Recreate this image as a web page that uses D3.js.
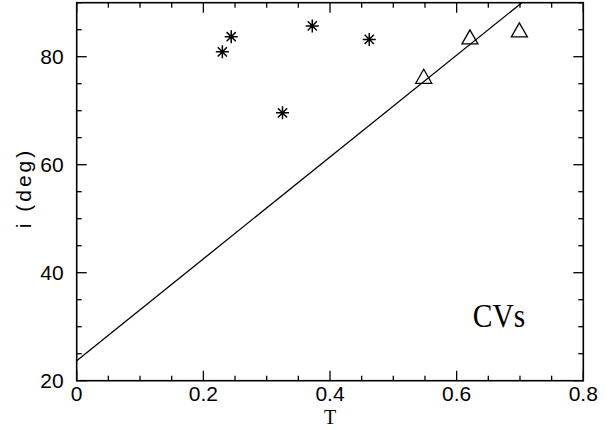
<!DOCTYPE html>
<html>
<head>
<meta charset="utf-8">
<script src="https://cdn.jsdelivr.net/npm/d3@7"></script>
<style>
  html, body { margin: 0; padding: 0; background: #fff; }
  svg { display: block; }
  .tick-label { font-family: "Liberation Sans", Arial, sans-serif; font-size: 21px; fill: #000; }
  .axis-title { font-family: "Liberation Serif", "Times New Roman", serif; fill: #000; }
</style>
</head>
<body>
<svg id="chart" width="616" height="430"></svg>
<script>
// Inclination vs. T for cataclysmic variables
const starT = [0.230, 0.244, 0.325, 0.372, 0.462];
const starI = [80.9, 83.7, 69.6, 85.7, 83.2];

const triT = [0.548, 0.621, 0.699];
const triI = [76.0, 83.3, 84.6];

// Linear relation i = a + b*T
const fitA = 23.7;
const fitB = 94.3;

const xDomain = [0, 0.8];
const yDomain = [20, 90];
const xMajor = [0, 0.2, 0.4, 0.6, 0.8];
const xMajorLabels = ["0", "0.2", "0.4", "0.6", "0.8"];
const yMajor = [20, 40, 60, 80];
const yMajorLabels = ["20", "40", "60", "80"];
const xMinorStep = 0.05;
const yMinorStep = 5;

const svg = d3.select("#chart");
const frame = { left: 76.7, right: 583.3, top: 2.7, bottom: 380.7 };

const x = d3.scaleLinear().domain(xDomain).range([frame.left, frame.right]);
const y = d3.scaleLinear().domain(yDomain).range([frame.bottom, frame.top]);

const majorLen = 10, minorLen = 5;

const xMinor = d3.range(xDomain[0], xDomain[1] + 1e-9, xMinorStep);
const yMinor = d3.range(yDomain[0], yDomain[1] + 1e-9, yMinorStep);
const isMajor = (v, list) => list.some(m => Math.abs(m - v) < 1e-9);

const g = svg.append("g");

// clip region for the plotted data
svg.append("clipPath").attr("id", "plotclip")
  .append("rect").attr("x", frame.left).attr("y", frame.top)
  .attr("width", frame.right - frame.left).attr("height", frame.bottom - frame.top);

// inward ticks on all four sides
const ticks = g.append("g").attr("stroke", "#000").attr("stroke-width", 1.3);
xMinor.forEach(v => {
  const len = isMajor(v, xMajor) ? majorLen : minorLen;
  const px = x(v);
  ticks.append("line").attr("x1", px).attr("x2", px).attr("y1", frame.bottom).attr("y2", frame.bottom - len);
  ticks.append("line").attr("x1", px).attr("x2", px).attr("y1", frame.top).attr("y2", frame.top + len);
});
yMinor.forEach(v => {
  const len = isMajor(v, yMajor) ? majorLen : minorLen;
  const py = y(v);
  ticks.append("line").attr("x1", frame.left).attr("x2", frame.left + len).attr("y1", py).attr("y2", py);
  ticks.append("line").attr("x1", frame.right).attr("x2", frame.right - len).attr("y1", py).attr("y2", py);
});

// frame
g.append("rect").attr("x", frame.left).attr("y", frame.top)
  .attr("width", frame.right - frame.left).attr("height", frame.bottom - frame.top)
  .attr("fill", "none").attr("stroke", "#000").attr("stroke-width", 1.6);

// tick labels
g.selectAll(".xl").data(xMajor).enter().append("text")
  .attr("class", "tick-label")
  .attr("x", d => x(d)).attr("y", frame.bottom + 20)
  .attr("text-anchor", "middle")
  .text((d, i) => xMajorLabels[i]);

g.selectAll(".yl").data(yMajor).enter().append("text")
  .attr("class", "tick-label")
  .attr("x", frame.left - 13).attr("y", d => y(d) + 7.5)
  .attr("text-anchor", "end")
  .text((d, i) => yMajorLabels[i]);

// axis titles
g.append("text").attr("class", "axis-title")
  .attr("x", x(0.4)).attr("y", 424)
  .attr("text-anchor", "middle").attr("font-size", 20)
  .text("T");

g.append("text")
  .attr("font-family", "Liberation Sans, Arial, sans-serif")
  .attr("font-size", 21)
  .attr("letter-spacing", 3)
  .attr("text-anchor", "middle")
  .attr("transform", "translate(31,188) rotate(-90)")
  .text("i (deg)");

// fitted relation
const lineData = xDomain.map(t => [t, fitA + fitB * t]);
g.append("path")
  .attr("clip-path", "url(#plotclip)")
  .attr("d", d3.line().x(d => x(d[0])).y(d => y(d[1]))(lineData))
  .attr("fill", "none").attr("stroke", "#000").attr("stroke-width", 1.3);

// asterisk markers (eight arms)
const starPath = (r) => {
  let p = "";
  for (let k = 0; k < 4; k++) {
    const a = k * Math.PI / 4;
    const dx = r * Math.cos(a), dy = r * Math.sin(a);
    p += `M${-dx},${-dy}L${dx},${dy}`;
  }
  return p;
};
g.selectAll(".star").data(starT.map((t, i) => [t, starI[i]])).enter().append("path")
  .attr("transform", d => `translate(${x(d[0])},${y(d[1])})`)
  .attr("d", starPath(6.5))
  .attr("fill", "none").attr("stroke", "#000").attr("stroke-width", 1.5);

// open triangle markers
const triPath = "M0,-9L8,5L-8,5Z";
g.selectAll(".tri").data(triT.map((t, i) => [t, triI[i]])).enter().append("path")
  .attr("transform", d => `translate(${x(d[0])},${y(d[1])})`)
  .attr("d", triPath)
  .attr("fill", "none").attr("stroke", "#000").attr("stroke-width", 1.3);

// label
g.append("text").attr("class", "axis-title")
  .attr("x", 499).attr("y", 327)
  .attr("text-anchor", "middle").attr("font-size", 32)
  .attr("transform", "translate(499,327) scale(0.92,1.08) translate(-499,-327)")
  .text("CVs");
</script>
</body>
</html>
